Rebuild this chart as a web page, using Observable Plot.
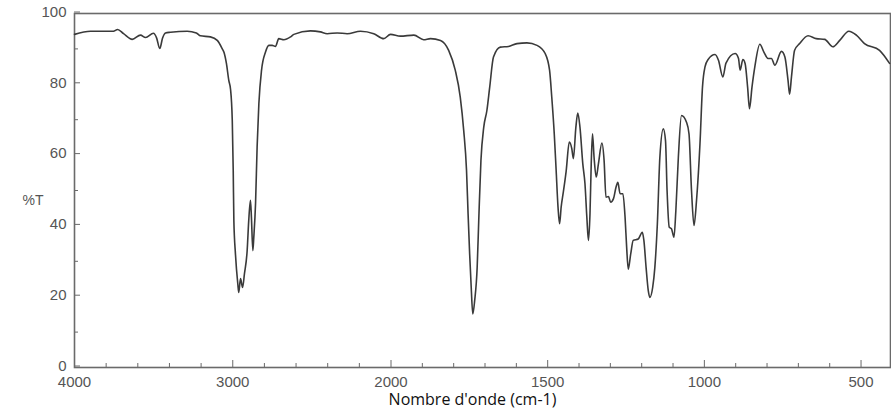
<!DOCTYPE html>
<html>
<head>
<meta charset="utf-8">
<script src="https://cdn.jsdelivr.net/npm/d3@7"></script>
<script src="https://cdn.jsdelivr.net/npm/@observablehq/plot@0.6"></script>
<style>
  html, body { margin: 0; padding: 0; background: #fff; }
  #chart svg { display: block; }
</style>
</head>
<body>
<div id="chart"></div>
<script>
const wavenumber = [
  4000, 3899, 3754, 3728, 3690, 3635, 3583, 3551, 3501, 3482, 3461, 3444, 3425, 3393, 3288, 3230,
  3204, 3141, 3098, 3067, 3055, 3040, 3025, 3014, 3003, 2997, 2993, 2983, 2968, 2962, 2951, 2938,
  2926, 2909, 2899, 2888, 2882, 2873, 2867, 2856, 2846, 2835, 2818, 2793, 2772, 2751, 2730, 2709,
  2677, 2635, 2614, 2509, 2446, 2403, 2340, 2277, 2193, 2109, 2046, 2003, 1970, 1927, 1896, 1874,
  1842, 1816, 1795, 1779, 1768, 1759, 1754, 1749, 1744, 1739, 1733, 1725, 1720, 1713, 1704, 1694,
  1685, 1673, 1651, 1625, 1598, 1566, 1534, 1508, 1494, 1487, 1479, 1473, 1467, 1462, 1457, 1450,
  1441, 1431, 1423, 1418, 1410, 1404, 1397, 1388, 1381, 1375, 1370, 1365, 1361, 1357, 1352, 1345,
  1338, 1327, 1320, 1314, 1306, 1299, 1290, 1282, 1276, 1269, 1260, 1253, 1248, 1243, 1235, 1227,
  1211, 1198, 1193, 1186, 1179, 1174, 1165, 1158, 1150, 1142, 1131, 1124, 1119, 1112, 1105, 1097,
  1091, 1083, 1073, 1057, 1049, 1041, 1033, 1025, 1014, 1006, 998, 988, 966, 955, 941, 931,
  902, 891, 886, 877, 870, 862, 856, 848, 839, 823, 810, 797, 786, 775, 754, 743,
  733, 728, 722, 712, 696, 669, 643, 616, 590, 568, 539, 515, 489, 441, 409
];
const transmittance = [
  94.1, 95.0, 95.0, 95.5, 94.3, 92.7, 93.9, 93.2, 94.4, 93.2, 90.1, 93.0, 94.5, 94.7, 95.0, 94.5,
  93.7, 93.4, 92.4, 90.1, 89.0, 85.9, 81.1, 78.6, 69.8, 55.7, 41.5, 32.1, 23.6, 21.2, 25.1, 22.6,
  26.5, 33.0, 41.5, 47.2, 42.4, 33.0, 36.8, 46.3, 62.3, 74.5, 84.0, 89.1, 91.0, 91.0, 90.7, 92.9,
  92.6, 93.4, 94.1, 95.1, 94.8, 94.3, 94.5, 94.3, 95.0, 94.3, 92.9, 94.1, 93.6, 93.9, 92.6, 92.9,
  92.4, 89.6, 84.0, 76.4, 67.0, 55.7, 43.4, 32.1, 22.6, 15.1, 18.9, 28.3, 41.5, 58.5, 67.9, 72.6,
  79.2, 87.7, 90.5, 90.7, 91.5, 91.7, 91.0, 88.7, 84.0, 76.4, 66.0, 55.7, 45.3, 40.6, 45.3, 49.6,
  55.5, 63.7, 61.8, 59.0, 67.9, 71.9, 67.9, 57.6, 51.9, 42.4, 35.9, 43.4, 57.6, 66.0, 59.4, 53.8,
  57.6, 63.4, 58.5, 48.1, 48.3, 46.7, 47.7, 50.9, 52.3, 49.1, 49.1, 42.4, 34.0, 27.8, 32.1, 35.9,
  36.3, 38.2, 35.9, 28.3, 21.7, 19.8, 22.6, 28.3, 40.6, 59.4, 67.4, 64.1, 50.0, 39.6, 39.2, 36.8,
  44.3, 59.4, 71.2, 69.3, 66.0, 50.0, 40.1, 47.2, 63.2, 79.2, 84.9, 87.0, 88.4, 86.8, 82.1, 86.0,
  88.7, 87.3, 84.0, 87.0, 85.9, 79.2, 73.1, 79.2, 84.9, 91.3, 89.1, 87.3, 87.3, 85.4, 89.3, 87.7,
  81.1, 77.2, 82.1, 89.6, 91.5, 93.7, 92.9, 92.7, 90.6, 92.4, 95.0, 93.9, 91.5, 89.6, 85.9
];
const xMajorTicks = [4000, 3000, 2000, 1500, 1000, 500];
const xMinorTicks = [3800, 3600, 3400, 3200, 2800, 2600, 2400, 2200, 1900, 1800, 1700, 1600,
  1400, 1300, 1200, 1100, 900, 800, 700, 600];
const yMajorTicks = [0, 20, 40, 60, 80, 100];
const yMinorTicks = [10, 30, 50, 70, 90];
const xLabel = "Nombre d'onde (cm-1)";
const yLabel = "%T";

const spectrum = wavenumber.map((w, i) => ({w, t: transmittance[i]}));

const axisColor = "#6a6a6a";
const tickFont = "'Liberation Sans', Arial, sans-serif";

const chart = Plot.plot({
  width: 891,
  height: 415,
  marginLeft: 74,
  marginRight: 1,
  marginTop: 13,
  marginBottom: 48,
  style: {background: "#fff", fontFamily: tickFont},
  x: {type: "linear", domain: [4000, 2000, 406], range: [74, 390.5, 890]},
  y: {domain: [0, 100], range: [367, 13]},
  marks: [
    Plot.frame({stroke: axisColor, strokeWidth: 1.6}),
    Plot.axisX(xMinorTicks, {anchor: "bottom", tickSize: -4, tickFormat: () => "", stroke: axisColor, label: null}),
    Plot.axisX(xMajorTicks, {anchor: "bottom", tickSize: -7, tickPadding: 15.5, stroke: axisColor, fill: "#555",
      fontSize: 15, fontFamily: tickFont, tickFormat: d => String(d), label: null}),
    Plot.axisY(yMinorTicks, {anchor: "left", tickSize: -4, tickFormat: () => "", stroke: axisColor, label: null}),
    Plot.axisY(yMajorTicks, {anchor: "left", tickSize: -6, tickPadding: 14, dy: -1.5, stroke: axisColor, fill: "#555",
      fontSize: 15, fontFamily: tickFont, tickFormat: d => String(d), label: null}),
    Plot.line(spectrum, {x: "w", y: "t", stroke: "#3a3a3a", strokeWidth: 1.6, curve: "monotone-x"}),
    Plot.text([xLabel], {frameAnchor: "bottom", dx: -10, dy: 37, fontSize: 16, fill: "#111",
      fontFamily: "'Open Sans', 'Noto Sans', sans-serif"}),
    Plot.text([yLabel], {frameAnchor: "left", dx: -52, dy: 10, fontSize: 14, fill: "#555", fontFamily: tickFont})
  ]
});
document.getElementById("chart").appendChild(chart);
</script>
</body>
</html>
